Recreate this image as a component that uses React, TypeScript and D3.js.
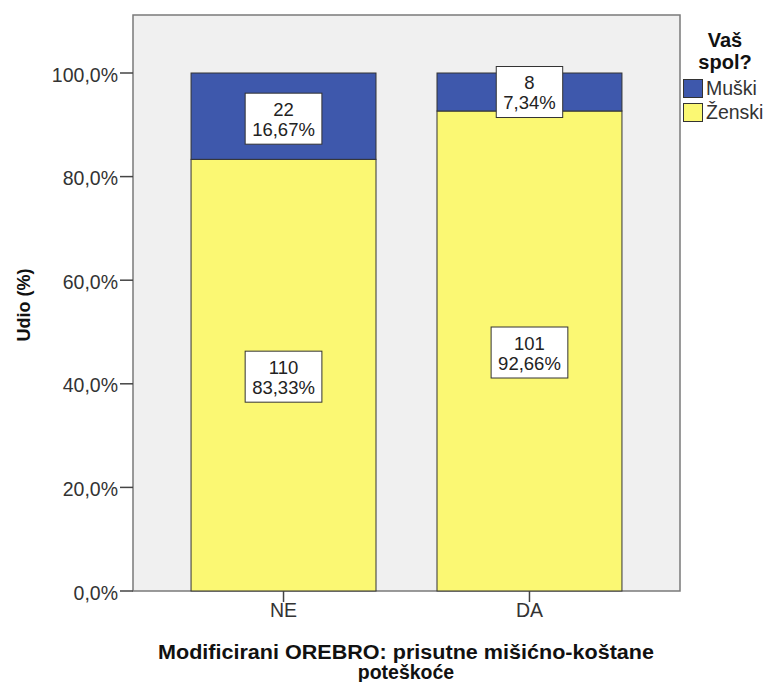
import React from "react";
import * as d3 from "d3";

const categories = ["NE", "DA"];
const series = ["Muški", "Ženski"];
const femaleCounts = [110, 101];
const maleCounts = [22, 8];
const femalePct = [83.33, 92.66];
const malePct = [16.67, 7.34];
const yTicks = [0, 20, 40, 60, 80, 100];
const colors = ["#3E58AC", "#FBF873"];

const W = 771, H = 682;
const L = 133, R = 680, T = 15, B = 591;
const font = "'Liberation Sans', Arial, sans-serif";
const FS = 19.5;
const LFS = 18.5;

const fmt = (v: number) => v.toFixed(2).replace(".", ",") + "%";
const charW = (ch: string) => (ch === "," ? 0.278 : ch === "%" ? 0.889 : 0.556);
const textW = (s: string, fs: number) => s.split("").reduce((a, c) => a + charW(c), 0) * fs;

function Label({ x, y, lines }: { x: number; y: number; lines: string[] }) {
  const w = Math.max(...lines.map((l) => textW(l, LFS))) + 14;
  const h = 51;
  return (
    <g>
      <rect x={x - w / 2} y={y - h / 2} width={w} height={h} fill="#fff" stroke="#333" strokeWidth={1} />
      {lines.map((l, i) => (
        <text key={i} x={x} y={y - 3 + i * 20} textAnchor="middle" fontSize={LFS} fontFamily={font} fill="#222">
          {l}
        </text>
      ))}
    </g>
  );
}

export default function App() {
  const x = d3.scaleBand().domain(categories).range([L, R]).paddingInner(0.248).paddingOuter(0.236);
  const y = d3.scaleLinear().domain([0, 100]).range([B, 73]);
  const bw = x.bandwidth();
  return (
    <svg width={W} height={H} style={{ position: "absolute", left: 0, top: 0 }}>
      <rect x={L} y={T} width={R - L} height={B - T} fill="#F0F0F0" stroke="#7a7a7a" strokeWidth={1.5} />
      {categories.map((c, i) => {
        const x0 = x(c)!;
        const fTop = y(femalePct[i]);
        return (
          <g key={c}>
            <rect x={x0} y={fTop} width={bw} height={B - fTop} fill={colors[1]} stroke="#333" strokeWidth={1} />
            <rect x={x0} y={y(100)} width={bw} height={fTop - y(100)} fill={colors[0]} stroke="#333" strokeWidth={1} />
          </g>
        );
      })}
      {categories.map((c, i) => {
        const cx = x(c)! + bw / 2;
        return (
          <g key={c + "l"}>
            <Label x={cx} y={(y(100) + y(femalePct[i])) / 2 + (i === 0 ? 2.5 : 0)} lines={[String(maleCounts[i]), fmt(malePct[i])]} />
            <Label x={cx} y={(y(femalePct[i]) + B) / 2 + 1.5} lines={[String(femaleCounts[i]), fmt(femalePct[i])]} />
          </g>
        );
      })}
      {yTicks.map((t) => (
        <g key={t}>
          <line x1={L - 13} x2={L} y1={y(t)} y2={y(t)} stroke="#444" strokeWidth={1.5} />
          <text x={L - 15} y={y(t) + 8.5} textAnchor="end" fontSize={FS} fontFamily={font} fill="#333">
            {t.toFixed(1).replace(".", ",") + "%"}
          </text>
        </g>
      ))}
      {categories.map((c) => {
        const cx = x(c)! + bw / 2;
        return (
          <g key={c + "t"}>
            <line x1={cx} x2={cx} y1={B} y2={B + 11} stroke="#444" strokeWidth={1.5} />
            <text x={cx} y={B + 26} textAnchor="middle" fontSize={FS} fontFamily={font} fill="#333">{c}</text>
          </g>
        );
      })}
      <text transform={`translate(30,${(T + B) / 2 + 2}) rotate(-90)`} textAnchor="middle" fontSize={18} fontWeight="bold" fontFamily={font} fill="#111">
        Udio (%)
      </text>
      <text x={406} y={659} textAnchor="middle" fontSize={19.5} fontWeight="bold" fontFamily={font} fill="#111" textLength={496} lengthAdjust="spacingAndGlyphs">
        Modificirani OREBRO: prisutne mišićno-koštane
      </text>
      <text x={406} y={679} textAnchor="middle" fontSize={19.5} fontWeight="bold" fontFamily={font} fill="#111">
        poteškoće
      </text>
      <text x={725} y={47} textAnchor="middle" fontSize={20} fontWeight="bold" fontFamily={font} fill="#111">Vaš</text>
      <text x={725} y={69} textAnchor="middle" fontSize={20} fontWeight="bold" fontFamily={font} fill="#111">spol?</text>
      {series.map((s, i) => (
        <g key={s}>
          <rect x={683.5} y={79.5 + i * 24} width={19} height={18} fill={colors[i]} stroke="#333" strokeWidth={1} />
          <text x={706} y={95 + i * 24} fontSize={FS} fontFamily={font} fill="#333">{s}</text>
        </g>
      ))}
    </svg>
  );
}
